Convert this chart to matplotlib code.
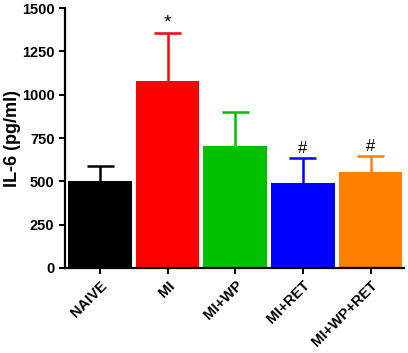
import numpy as np
import matplotlib
matplotlib.use('Agg')
from matplotlib import pyplot as plt

plt.rcParams.update({
    "font.family": "Liberation Sans",
    "font.weight": "bold",
    "font.size": 10.5,
})

groups = ['NAIVE', 'MI', 'MI+WP', 'MI+RET', 'MI+WP+RET']
means = [500, 1080, 705, 490, 552]
sems = [88, 276, 195, 143, 96]
colors = ['#000000', '#ff0000', '#00c000', '#0000ff', '#ff8000']
marks = ['', '*', '', '#', '#']

fig = plt.figure(figsize=(4.08, 3.53), dpi=100)
ax = fig.add_axes([0.159, 0.241, 0.832, 0.736])

x = np.arange(len(groups))
ax.bar(x, means, width=0.94, color=colors, zorder=2)
# upward-only error bars with a cap
ax.vlines(x, means, np.add(means, sems), colors=colors, linewidth=1.8, zorder=1)
ax.hlines(np.add(means, sems), x - 0.2, x + 0.2, colors=colors, linewidth=1.8, zorder=1)
for xi, m, s, mk in zip(x, means, sems, marks):
    if mk:
        ax.text(xi, m + s + 12, mk, ha='center', va='bottom',
                fontsize=14 if mk == '*' else 12, fontweight='normal')

ax.set_xlim(-0.52, 4.5)
ax.set_ylim(0, 1500)
ax.set_yticks([0, 250, 500, 750, 1000, 1250, 1500])
ax.set_xticks(x)
ax.set_xticklabels(groups, rotation=45, ha='right', rotation_mode='anchor')
ax.set_ylabel('IL-6 (pg/ml)', fontsize=13, fontweight='bold')
ax.yaxis.set_label_coords(-0.128, 0.5)

for side in ['top', 'right']:
    ax.spines[side].set_visible(False)
for side in ['left', 'bottom']:
    ax.spines[side].set_linewidth(1.6)
ax.tick_params(width=1.4, length=4)

plt.savefig('out.png', dpi=100)
